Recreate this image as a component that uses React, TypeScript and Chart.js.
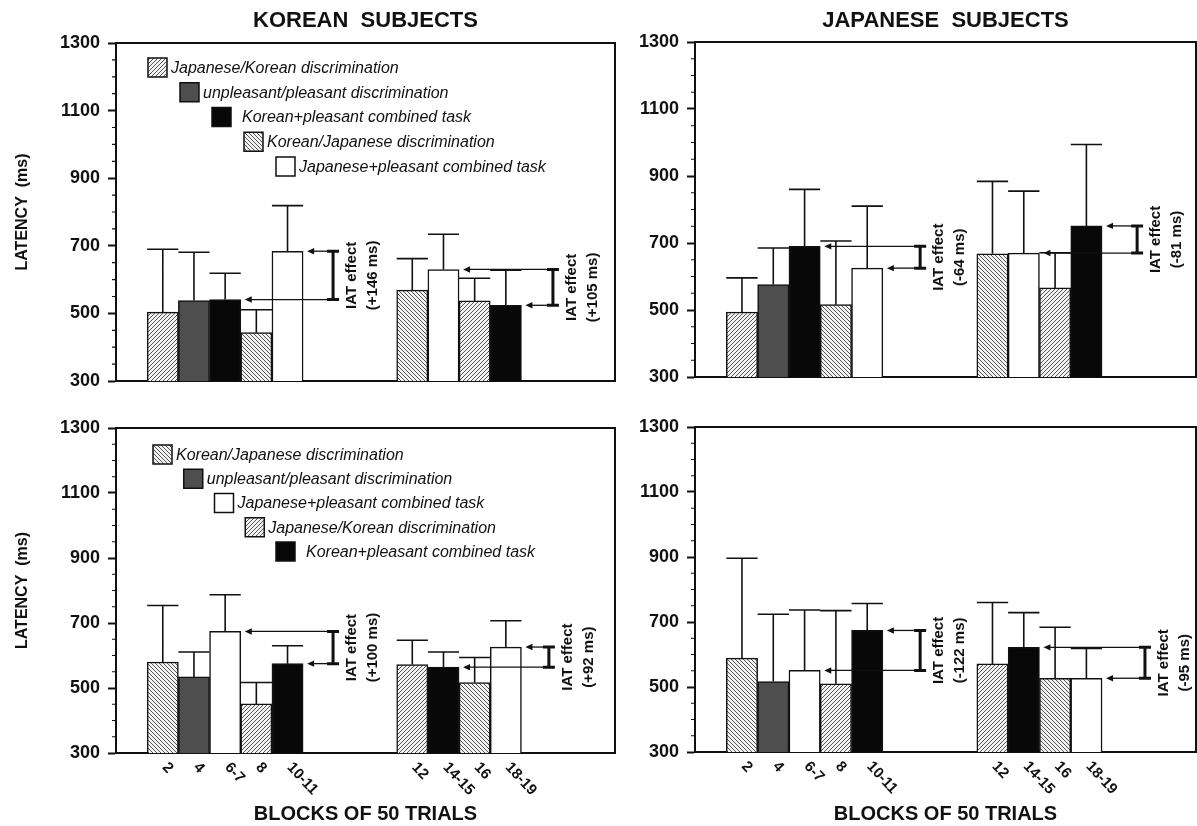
import React, { useEffect, useRef } from "react";
import { Chart, registerables } from "chart.js";

Chart.register(...registerables);

type Kind = "" | "JK" | "KJ" | "UP" | "KP" | "JP";

// x slots (blocks of 50 trials); blank slots form the gaps between groups
const blockLabels = ["", "2", "4", "6-7", "8", "10-11", "", "", "", "12", "14-15", "16", "18-19", "", "", ""];

// task of the bar in each slot
const topKinds: Kind[] = ["", "JK", "UP", "KP", "KJ", "JP", "", "", "", "KJ", "JP", "JK", "KP", "", "", ""];
const bottomKinds: Kind[] = ["", "KJ", "UP", "JP", "JK", "KP", "", "", "", "JK", "KP", "KJ", "JP", "", "", ""];

// mean latencies (ms) and top of error bars (ms)
const korTopMeans = [null, 504, 538, 541, 443, 684, null, null, null, 569, 630, 537, 524, null, null, null];
const korTopErrTop = [null, 690, 681, 619, 511, 819, null, null, null, 662, 734, 604, 628, null, null, null];
const jpnTopMeans = [null, 494, 576, 690, 516, 625, null, null, null, 668, 670, 566, 751, null, null, null];
const jpnTopErrTop = [null, 596, 685, 860, 706, 810, null, null, null, 884, 855, 671, 994, null, null, null];
const korBottomMeans = [null, 580, 534, 674, 451, 575, null, null, null, 572, 564, 517, 626, null, null, null];
const korBottomErrTop = [null, 754, 611, 787, 517, 630, null, null, null, 647, 611, 594, 707, null, null, null];
const jpnBottomMeans = [null, 589, 517, 551, 510, 674, null, null, null, 571, 622, 527, 527, null, null, null];
const jpnBottomErrTop = [null, 896, 724, 737, 735, 757, null, null, null, 760, 729, 684, 619, null, null, null];

const yTicks = [300, 500, 700, 900, 1100, 1300];

const kindNames: Record<string, string> = {
  JK: "Japanese/Korean discrimination",
  KJ: "Korean/Japanese discrimination",
  UP: "unpleasant/pleasant discrimination",
  KP: "Korean+pleasant combined task",
  JP: "Japanese+pleasant combined task",
};
const topLegendKinds: Kind[] = ["JK", "UP", "KP", "KJ", "JP"];
const bottomLegendKinds: Kind[] = ["KJ", "UP", "JP", "JK", "KP"];

// IAT effect annotations: slots compared, bracket slot position, label
type Effect = { a: number; b: number; at: number; text: string };
const korTopEffects: Effect[] = [
  { a: 5, b: 3, at: 6.46, text: "(+146 ms)" },
  { a: 10, b: 12, at: 13.51, text: "(+105 ms)" },
];
const jpnTopEffects: Effect[] = [
  { a: 3, b: 5, at: 6.69, text: "(-64 ms)" },
  { a: 12, b: 10, at: 13.62, text: "(-81 ms)" },
];
const korBottomEffects: Effect[] = [
  { a: 3, b: 5, at: 6.46, text: "(+100 ms)" },
  { a: 12, b: 10, at: 13.38, text: "(+92 ms)" },
];
const jpnBottomEffects: Effect[] = [
  { a: 5, b: 3, at: 6.69, text: "(-122 ms)" },
  { a: 10, b: 12, at: 13.87, text: "(-95 ms)" },
];

const FONT = "'Liberation Sans', Arial, Helvetica, sans-serif";
const INK = "#111";

type Spec = {
  x: number; y: number; w: number; h: number;
  padTop: number; padRight: number; yW: number; xH: number;
  title?: string; titlePadTop?: number; titlePadBottom?: number;
  yTitle?: boolean; xTitle?: boolean;
  means: (number | null)[]; errTop: (number | null)[]; kinds: Kind[];
  effects: Effect[];
  legend?: { kinds: Kind[]; x0: number; y0: number; dx: number; dy: number };
};

let patternCache: Record<string, CanvasPattern | string> | null = null;
function fills(): Record<string, CanvasPattern | string> {
  if (patternCache) return patternCache;
  const hatch = (dir: number) => {
    const s = 4;
    const c = document.createElement("canvas");
    c.width = s; c.height = s;
    const g = c.getContext("2d")!;
    g.fillStyle = "#f2f2f2";
    g.fillRect(0, 0, s, s);
    g.strokeStyle = "#4c4c4c";
    g.lineWidth = 0.95;
    g.beginPath();
    if (dir > 0) {
      g.moveTo(-1, s + 1); g.lineTo(s + 1, -1);
      g.moveTo(-1, 1); g.lineTo(1, -1);
      g.moveTo(s - 1, s + 1); g.lineTo(s + 1, s - 1);
    } else {
      g.moveTo(-1, -1); g.lineTo(s + 1, s + 1);
      g.moveTo(s - 1, -1); g.lineTo(s + 1, 1);
      g.moveTo(-1, s - 1); g.lineTo(1, s + 1);
    }
    g.stroke();
    return g.createPattern(c, "repeat")!;
  };
  patternCache = {
    JK: hatch(1),
    KJ: hatch(-1),
    UP: "#4e4e4e",
    KP: "#080808",
    JP: "#ffffff",
    "": "#ffffff",
  };
  return patternCache;
}

function decorPlugin(spec: Spec) {
  return {
    id: "decor",
    afterDatasetsDraw(chart: any) {
      const ctx: CanvasRenderingContext2D = chart.ctx;
      const { left, right, top, bottom } = chart.chartArea;
      const xs = chart.scales.x;
      const ys = chart.scales.y;
      const meta = chart.getDatasetMeta(0);
      ctx.save();
      ctx.strokeStyle = INK;
      ctx.fillStyle = INK;

      // frame (top & right)
      ctx.lineWidth = 2;
      ctx.beginPath();
      ctx.moveTo(left - 1, top);
      ctx.lineTo(right, top);
      ctx.lineTo(right, bottom + 1);
      ctx.stroke();

      // minor ticks every 50 ms
      ctx.lineWidth = 1.2;
      ctx.beginPath();
      for (let v = 350; v < 1300; v += 50) {
        if (yTicks.includes(v)) continue;
        const y = ys.getPixelForValue(v);
        ctx.moveTo(left - 4, y);
        ctx.lineTo(left, y);
      }
      ctx.stroke();

      // error bars (upper only)
      ctx.lineWidth = 1.6;
      ctx.beginPath();
      spec.errTop.forEach((e, i) => {
        const m = spec.means[i];
        if (e == null || m == null) return;
        const bar = meta.data[i];
        const x = bar.x;
        const hw = bar.width / 2;
        const yb = ys.getPixelForValue(m);
        const yt = ys.getPixelForValue(e);
        ctx.moveTo(x, yb);
        ctx.lineTo(x, yt);
        ctx.moveTo(x - hw, yt);
        ctx.lineTo(x + hw, yt);
      });
      ctx.stroke();

      // IAT effect annotations
      spec.effects.forEach((ef) => {
        const bx = xs.getPixelForValue(ef.at);
        const ya = ys.getPixelForValue(spec.means[ef.a] as number);
        const yb = ys.getPixelForValue(spec.means[ef.b] as number);
        // arrows
        [[ef.a, ya], [ef.b, yb]].forEach(([slot, y]) => {
          const tip = xs.getPixelForValue(slot + 0.5) + 4;
          ctx.lineWidth = 1.3;
          ctx.beginPath();
          ctx.moveTo(bx - 2, y);
          ctx.lineTo(tip + 5, y);
          ctx.stroke();
          ctx.beginPath();
          ctx.moveTo(tip, y);
          ctx.lineTo(tip + 7, y - 3.2);
          ctx.lineTo(tip + 7, y + 3.2);
          ctx.closePath();
          ctx.fill();
        });
        // bracket
        ctx.lineWidth = 3;
        ctx.beginPath();
        ctx.moveTo(bx, ya);
        ctx.lineTo(bx, yb);
        ctx.moveTo(bx - 6, ya);
        ctx.lineTo(bx + 6, ya);
        ctx.moveTo(bx - 6, yb);
        ctx.lineTo(bx + 6, yb);
        ctx.stroke();
        // label
        const mid = (ya + yb) / 2;
        ctx.font = `bold 15px ${FONT}`;
        ctx.textAlign = "center";
        ctx.textBaseline = "middle";
        [["IAT effect", 19], [ef.text, 40]].forEach(([t, dx]) => {
          ctx.save();
          ctx.translate(bx + (dx as number), mid);
          ctx.rotate(-Math.PI / 2);
          ctx.fillText(t as string, 0, 0);
          ctx.restore();
        });
      });

      // staircase legend
      if (spec.legend) {
        const L = spec.legend;
        const f = fills();
        L.kinds.forEach((k, i) => {
          const sx = left + L.x0 + i * L.dx;
          const sy = top + L.y0 + i * L.dy;
          const sz = 19;
          ctx.fillStyle = f[k] as any;
          ctx.fillRect(sx, sy, sz, sz);
          ctx.lineWidth = 1.5;
          ctx.strokeStyle = INK;
          ctx.strokeRect(sx, sy, sz, sz);
          ctx.fillStyle = INK;
          ctx.font = `italic 16px ${FONT}`;
          ctx.textAlign = "left";
          ctx.textBaseline = "middle";
          const gap = k === "KP" ? 11 : 4;
          ctx.fillText(kindNames[k], sx + sz + gap, sy + sz / 2 + 1);
        });
      }

      // slanted block labels
      if (spec.xTitle) {
        ctx.fillStyle = INK;
        ctx.font = `bold 15px ${FONT}`;
        ctx.textAlign = "left";
        ctx.textBaseline = "middle";
        blockLabels.forEach((lab, i) => {
          if (!lab) return;
          const x = xs.getPixelForValue(i);
          ctx.save();
          ctx.translate(x + 2, bottom + 12);
          ctx.rotate((47 * Math.PI) / 180);
          ctx.fillText(lab, 0, 0);
          ctx.restore();
        });
      }
      ctx.restore();
    },
  };
}

function buildConfig(spec: Spec): any {
  const f = fills();
  return {
    type: "bar",
    data: {
      labels: blockLabels,
      datasets: [
        {
          data: spec.means,
          backgroundColor: spec.kinds.map((k) => f[k]),
          borderColor: INK,
          borderWidth: 1.5,
          barPercentage: 1,
          categoryPercentage: 1,
        },
      ],
    },
    options: {
      responsive: false,
      maintainAspectRatio: false,
      animation: false,
      events: [],
      layout: { padding: { left: 0, right: spec.padRight, top: spec.padTop, bottom: 0 } },
      plugins: {
        legend: { display: false },
        tooltip: { enabled: false },
        title: {
          display: !!spec.title,
          text: spec.title || "",
          fullSize: false,
          color: INK,
          font: { family: FONT, size: 22, weight: "bold", lineHeight: 1.2 },
          padding: { top: spec.titlePadTop || 0, bottom: spec.titlePadBottom || 0 },
        },
      },
      scales: {
        x: {
          type: "category",
          offset: true,
          grid: { display: false },
          ticks: { display: false },
          border: { display: true, width: 2, color: INK },
          title: {
            display: !!spec.xTitle,
            text: "BLOCKS OF 50 TRIALS",
            color: INK,
            font: { family: FONT, size: 20, weight: "bold", lineHeight: 1.2 },
            padding: { top: 0, bottom: 0 },
          },
          afterFit: (s: any) => {
            s.height = spec.xH;
          },
        },
        y: {
          min: 300,
          max: 1300,
          afterBuildTicks: (s: any) => {
            s.ticks = yTicks.map((v) => ({ value: v }));
          },
          ticks: {
            color: INK,
            padding: 8,
            font: { family: FONT, size: 18, weight: "bold" },
            callback: (v: any) => String(v),
          },
          grid: {
            display: true,
            drawOnChartArea: false,
            drawTicks: true,
            tickLength: 8,
            tickWidth: 2,
            tickColor: INK,
            color: INK,
          },
          border: { display: true, width: 2, color: INK },
          title: {
            display: !!spec.yTitle,
            text: "LATENCY  (ms)",
            color: INK,
            font: { family: FONT, size: 16, weight: "bold", lineHeight: 1.2 },
            padding: { top: 13, bottom: 0 },
          },
          afterFit: (s: any) => {
            s.width = spec.yW;
          },
        },
      },
    },
    plugins: [decorPlugin(spec)],
  };
}

const specs: Spec[] = [
  {
    x: 0, y: 0, w: 620, h: 400, padTop: 0, padRight: 5, yW: 116, xH: 19,
    title: "KOREAN  SUBJECTS", titlePadTop: 8, titlePadBottom: 8.6, yTitle: true,
    means: korTopMeans, errTop: korTopErrTop, kinds: topKinds, effects: korTopEffects,
    legend: { kinds: topLegendKinds, x0: 32, y0: 15, dx: 32, dy: 24.75 },
  },
  {
    x: 620, y: 0, w: 577, h: 400, padTop: 0, padRight: 1, yW: 75, xH: 23,
    title: "JAPANESE  SUBJECTS", titlePadTop: 8, titlePadBottom: 7.6,
    means: jpnTopMeans, errTop: jpnTopErrTop, kinds: topKinds, effects: jpnTopEffects,
  },
  {
    x: 0, y: 400, w: 620, h: 426, padTop: 28, padRight: 5, yW: 116, xH: 73,
    yTitle: true, xTitle: true,
    means: korBottomMeans, errTop: korBottomErrTop, kinds: bottomKinds, effects: korBottomEffects,
    legend: { kinds: bottomLegendKinds, x0: 37, y0: 17, dx: 30.75, dy: 24.25 },
  },
  {
    x: 620, y: 400, w: 577, h: 426, padTop: 27, padRight: 1, yW: 75, xH: 74,
    xTitle: true,
    means: jpnBottomMeans, errTop: jpnBottomErrTop, kinds: bottomKinds, effects: jpnBottomEffects,
  },
];

function Panel({ spec }: { spec: Spec }) {
  const ref = useRef<HTMLCanvasElement>(null);
  useEffect(() => {
    const chart = new Chart(ref.current as HTMLCanvasElement, buildConfig(spec));
    return () => chart.destroy();
  }, [spec]);
  return (
    <canvas
      ref={ref}
      width={spec.w}
      height={spec.h}
      style={{ position: "absolute", left: spec.x, top: spec.y, width: spec.w, height: spec.h }}
    />
  );
}

export default function App() {
  return (
    <div
      style={{
        position: "absolute",
        left: 0,
        top: 0,
        width: 1197,
        height: 826,
        background: "#ffffff",
        overflow: "hidden",
      }}
    >
      {specs.map((s, i) => (
        <Panel key={i} spec={s} />
      ))}
    </div>
  );
}
